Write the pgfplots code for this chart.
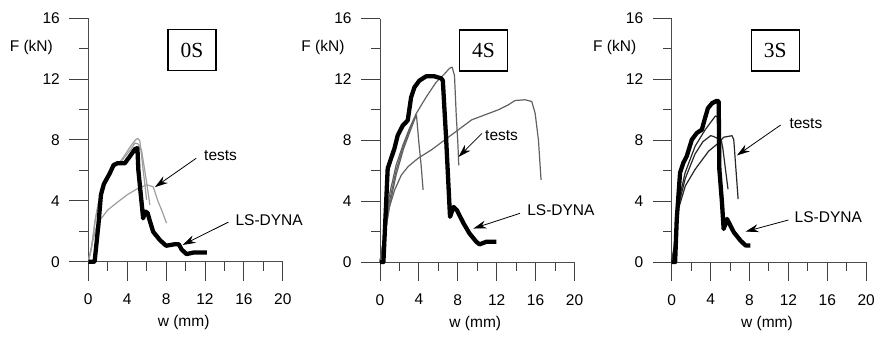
\documentclass[border=0pt]{standalone}
\usepackage{fontspec}
\setmainfont{Liberation Sans}
\newfontfamily\tnr{Liberation Serif}
\usepackage{pgfplots}
\pgfplotsset{compat=1.18}
\usetikzlibrary{arrows.meta}

\newcommand{\lab}{\fontsize{15.5}{17}\selectfont}
\tikzset{
  arr/.style={-{Stealth[length=13pt,width=8pt]}, line width=0.8pt},
  box/.style={font=\tnr\fontsize{21.5}{21.5}\selectfont, draw, line width=1.3pt, minimum width=48pt, minimum height=41pt, inner sep=0pt},
}
\pgfplotsset{
  panel/.style={
    scale only axis, width=194.5pt, height=243.5pt,
    xmin=0,xmax=20,ymin=0,ymax=16,
    axis x line*=bottom, axis y line*=left,
    xtick={0,4,...,20}, ytick={0,4,...,16},
    minor x tick num=1, minor y tick num=1,
    tick align=inside,
    major tick length=-19pt, minor tick length=-9pt,
    every tick/.append style={black!75, line width=1pt},
    axis line style={black!70, line width=1pt},
    ticklabel style={font=\lab, inner sep=0pt},
    xticklabel style={anchor=north, yshift=-32pt},
    yticklabel style={anchor=east, xshift=-28.3pt},
    /pgf/number format/assume math mode=true,
    anchor=south west, clip=false,
  },
  dyna/.style={black, line width=4.3pt, line join=round, no marks},
  test/.style={line width=1.2pt, line join=round, no marks},
}

\begin{document}
\begin{tikzpicture}
\useasboundingbox (0,0) rectangle (877pt,-341pt);

% ---------------- 0S ----------------
\begin{axis}[panel, at={(88.3pt,-261.7pt)}]
\addplot[test, black!38] coordinates {(0,0)(0.3,0.8)(0.7,2.7)(1.03,3.84)(1.54,5.05)(2.4,6.03)(3.42,6.69)(4.45,7.68)(4.85,8.0)(5.07,8.1)(5.3,7.96)(5.64,6.03)(6.0,4.06)};
\addplot[test, black!38] coordinates {(0,0)(0.35,1.0)(0.75,2.9)(1.1,4.0)(1.6,5.2)(2.4,6.1)(3.4,6.6)(4.4,7.4)(4.79,7.8)(5.1,7.75)(5.47,7.35)(6.0,5.2)(6.33,3.73)};
\addplot[test, black!38] coordinates {(0,0)(0.4,1.2)(0.8,2.2)(1.2,2.74)(2.0,3.4)(3.08,3.95)(4.0,4.4)(5.13,4.83)(6.0,5.05)(6.67,4.93)(7.18,3.95)(7.6,3.3)(8.04,2.53)};
\addplot[dyna] coordinates {(0,0)(0.65,0)(1.05,2.5)(1.3,4.4)(1.6,5.1)(2.2,5.8)(2.6,6.35)(3.0,6.47)(3.75,6.47)(4.25,6.9)(4.8,7.4)(5.05,7.46)(5.15,6.0)(5.64,2.85)(5.85,3.3)(6.1,3.2)(6.3,2.74)(6.67,1.97)(7.35,1.43)(8.0,1.05)(8.9,1.15)(9.3,1.15)(9.6,0.8)(10.1,0.5)(10.8,0.6)(12.2,0.6)};
\node[box] at (axis cs:10.65,13.9) {0S};
\node[font=\lab, inner sep=0pt] at (axis cs:13.6,6.95) {tests};
\draw[arr] (axis cs:11.1,6.8) -- (axis cs:6.85,4.9);
\node[font=\lab, inner sep=0pt] at (axis cs:18.6,2.74) {LS-DYNA};
\draw[arr] (axis cs:14.4,2.6) -- (axis cs:9.7,1.1);
\node[font=\lab, anchor=east, inner sep=0pt] at (axis cs:0,14.1) [xshift=-35.3pt] {F (kN)};
\node[font=\lab, inner sep=0pt] at (axis cs:9.8,0) [yshift=-61pt] {w (mm)};
\end{axis}

% ---------------- 4S ----------------
\begin{axis}[panel, at={(380pt,-262pt)}]
\addplot[test, black!62] coordinates {(0,0)(0.45,1.77)(0.96,4.39)(1.65,6.35)(2.34,7.66)(3.02,8.76)(3.71,9.74)(4.74,10.83)(5.77,11.81)(6.63,12.36)(7.15,12.73)(7.42,12.8)(7.66,12.25)(7.84,9.63)(8.0,7.88)(8.1,6.35)};
\addplot[test, black!62] coordinates {(0,0)(0.45,1.9)(0.96,3.95)(1.65,6.0)(2.4,7.6)(3.1,8.8)(3.75,9.67)(3.99,7.88)(4.23,6.35)(4.43,4.74)};
\addplot[test, black!62] coordinates {(0,0)(0.45,1.6)(0.96,3.6)(1.65,5.7)(2.4,7.4)(3.1,8.6)(3.6,9.45)};
\addplot[test, black!62] coordinates {(0,0)(0.45,1.6)(0.96,3.6)(1.51,4.74)(2.2,5.72)(2.89,6.27)(3.92,6.82)(5.29,7.37)(6.67,8.03)(8.04,8.68)(9.42,9.34)(10.79,9.67)(12.16,10.0)(13.2,10.33)(13.88,10.61)(14.9,10.66)(15.6,10.55)(15.95,9.78)(16.29,8.03)(16.56,5.4)};
\addplot[dyna] coordinates {(0,0)(0.35,0)(0.62,3.73)(0.79,6.14)(1.13,6.79)(1.48,7.45)(1.82,8.32)(2.34,8.97)(2.85,9.3)(3.2,10.83)(3.54,11.48)(4.05,11.92)(4.74,12.2)(5.6,12.2)(6.29,12.07)(6.46,11.92)(6.8,8.1)(7.2,2.97)(7.56,3.62)(7.9,3.41)(8.6,2.53)(9.2,1.88)(9.9,1.33)(10.24,1.16)(10.93,1.33)(11.96,1.33)};
\node[box] at (axis cs:10.65,13.9) {4S};
\node[font=\lab, inner sep=0pt] at (axis cs:12.5,8.3) {tests};
\draw[arr] (axis cs:10.48,8.45) -- (axis cs:8.07,6.9);
\node[font=\lab, inner sep=0pt] at (axis cs:18.6,3.4) {LS-DYNA};
\draw[arr] (axis cs:14.4,3.2) -- (axis cs:9.6,2.2);
\node[font=\lab, anchor=east, inner sep=0pt] at (axis cs:0,14.1) [xshift=-35.3pt] {F (kN)};
\node[font=\lab, inner sep=0pt] at (axis cs:9.8,0) [yshift=-61pt] {w (mm)};
\end{axis}

% ---------------- 3S ----------------
\begin{axis}[panel, at={(671.7pt,-262pt)}]
\addplot[test, black!85] coordinates {(0,0)(0.25,1.0)(0.69,3.9)(1.38,5.87)(2.41,7.61)(3.45,8.7)(4.5,9.6)(4.75,9.5)(5.0,6.5)};
\addplot[test, black!85] coordinates {(0,0)(0.25,0.9)(0.7,3.7)(1.4,5.5)(2.4,7.1)(3.2,7.9)(4.0,8.3)(4.3,8.25)(5.1,8.0)(5.25,7.5)(5.79,4.78)};
\addplot[test, black!85] coordinates {(0,0)(0.25,0.8)(0.7,3.5)(1.4,5.0)(2.41,6.09)(3.79,7.28)(4.83,7.83)(5.34,8.2)(6.2,8.3)(6.38,8.04)(6.83,4.13)};
\addplot[dyna] coordinates {(0,0)(0.35,0)(0.52,2.83)(0.86,5.87)(1.2,6.52)(1.55,6.96)(2.07,8.04)(2.59,8.48)(3.1,8.7)(3.38,9.35)(3.72,10.1)(4.14,10.43)(4.66,10.6)(4.83,10.54)(4.9,6.09)(5.17,3.9)(5.34,2.17)(5.69,2.83)(6.38,1.96)(7.07,1.41)(7.59,1.09)(8.1,1.09)};
\node[box] at (axis cs:10.65,13.9) {3S};
\node[font=\lab, inner sep=0pt] at (axis cs:13.8,9.1) {tests};
\draw[arr] (axis cs:11.2,9.0) -- (axis cs:6.7,7.0);
\node[font=\lab, inner sep=0pt] at (axis cs:16.1,2.96) {LS-DYNA};
\draw[arr] (axis cs:12.0,2.76) -- (axis cs:7.6,2.0);
\node[font=\lab, anchor=east, inner sep=0pt] at (axis cs:0,14.1) [xshift=-35.3pt] {F (kN)};
\node[font=\lab, inner sep=0pt] at (axis cs:9.8,0) [yshift=-61pt] {w (mm)};
\end{axis}
\end{tikzpicture}
\end{document}
